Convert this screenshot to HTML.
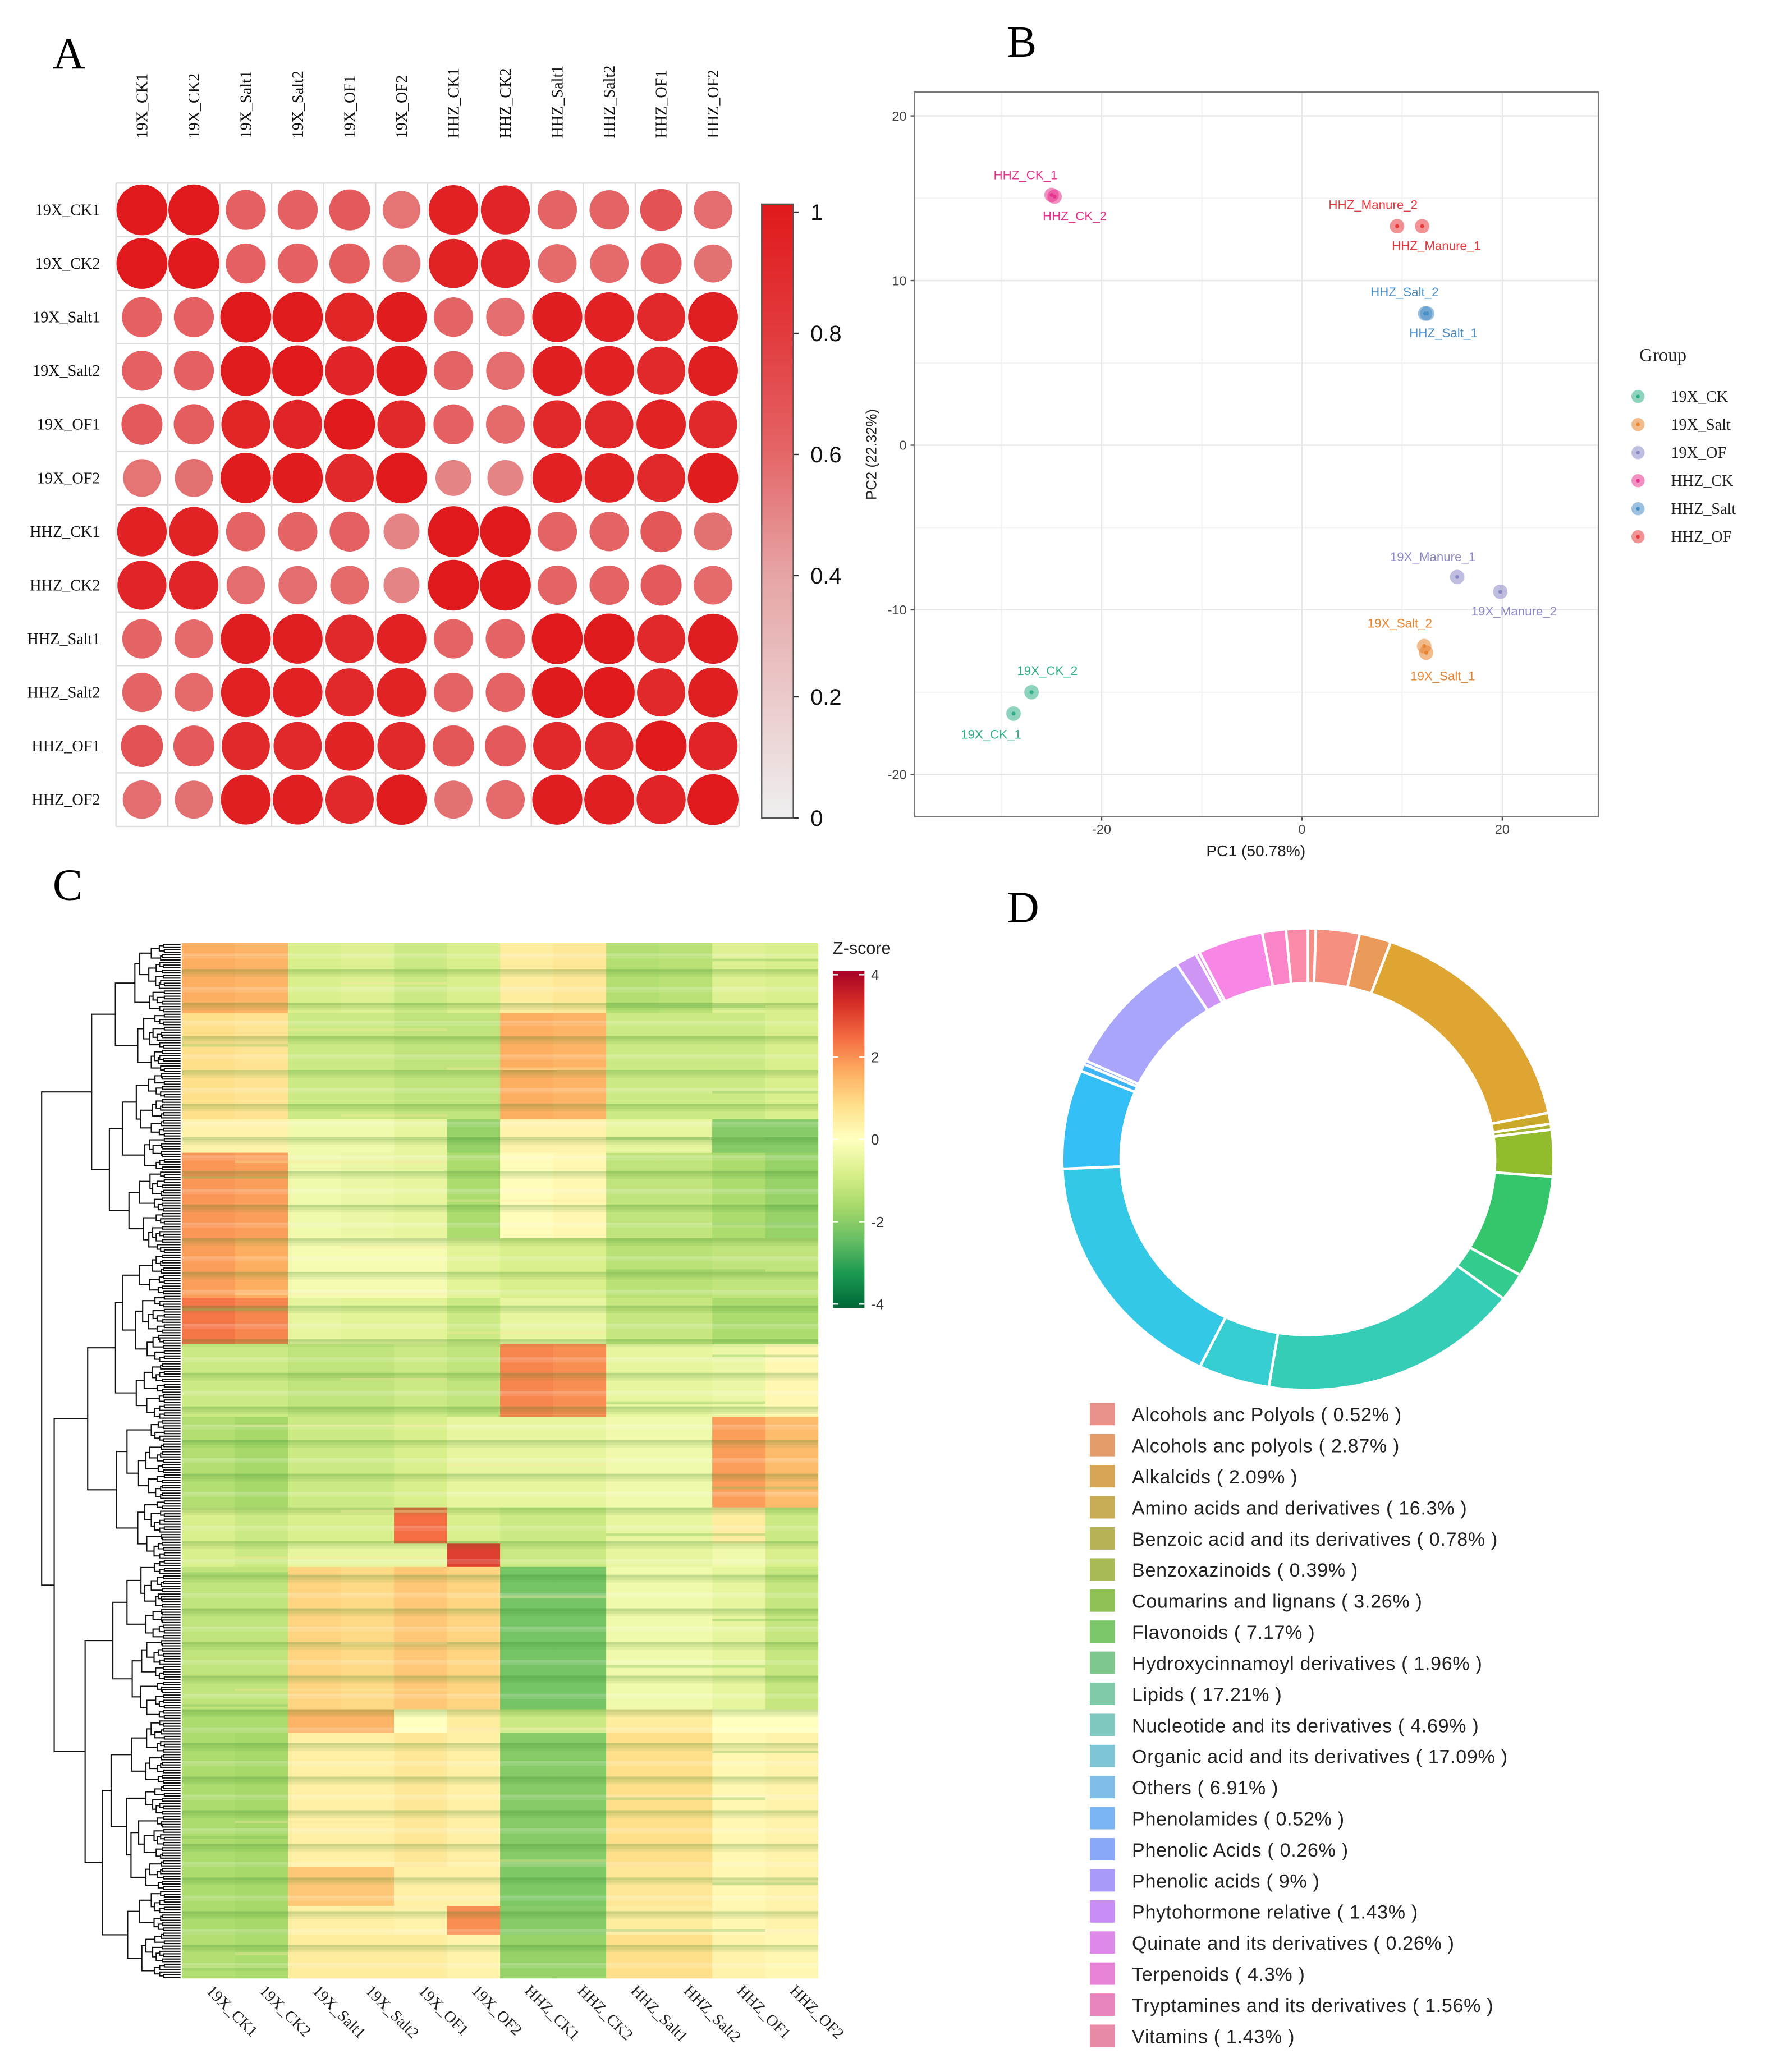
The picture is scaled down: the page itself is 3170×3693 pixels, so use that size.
<!DOCTYPE html>
<html><head><meta charset="utf-8">
<style>
html,body{margin:0;padding:0;background:#fff;}
svg{display:block;}
.serif{font-family:"Liberation Serif",serif;}
.sans{font-family:"Liberation Sans",sans-serif;}
</style></head>
<body>
<svg id="fig" xmlns="http://www.w3.org/2000/svg" width="3170" height="3693" viewBox="0 0 1350 1573" preserveAspectRatio="none">
<rect x="0" y="0" width="1350" height="1573" fill="#fff"/>
<defs><clipPath id="hmclip"><rect x="138" y="716" width="483" height="786"/></clipPath></defs>
<text class="serif" x="40" y="52" font-size="34">A</text>
<text class="serif" x="764" y="43" font-size="34">B</text>
<text class="serif" x="40" y="683" font-size="34">C</text>
<text class="serif" x="764" y="700" font-size="34">D</text>
<g id="pa"></g>
<g id="pb"></g>
<g id="pc"></g>
<g id="pd"></g>
</svg>
<script>
// ---------- DATA ----------
const corrLabels = ["19X_CK1","19X_CK2","19X_Salt1","19X_Salt2","19X_OF1","19X_OF2","HHZ_CK1","HHZ_CK2","HHZ_Salt1","HHZ_Salt2","HHZ_OF1","HHZ_OF2"];
const corrValues = [
[1,1,.62,.62,.65,.55,.95,.93,.6,.6,.68,.57],
[1,1,.62,.62,.63,.56,.94,.93,.58,.58,.65,.56],
[.62,.62,1,.98,.92,.98,.6,.57,.97,.95,.9,.96],
[.62,.62,.98,1,.93,.98,.6,.57,.96,.95,.9,.96],
[.65,.63,.92,.93,1,.9,.62,.58,.9,.9,.94,.9],
[.55,.56,.98,.98,.9,1,.5,.5,.95,.94,.9,.98],
[.95,.94,.6,.6,.62,.5,1,1,.6,.6,.66,.56],
[.93,.93,.57,.57,.58,.5,1,1,.6,.6,.65,.58],
[.6,.58,.97,.96,.9,.95,.6,.6,1,.99,.9,.97],
[.6,.58,.95,.95,.9,.94,.6,.6,.99,1,.9,.96],
[.68,.65,.9,.9,.94,.9,.66,.65,.9,.9,1,.93],
[.57,.56,.96,.96,.9,.98,.56,.58,.97,.96,.93,1]];
const corrTicks = [0,0.2,0.4,0.6,0.8,1];

const pcaNames = ["HHZ_CK_1","HHZ_CK_2","HHZ_Manure_2","HHZ_Manure_1","HHZ_Salt_2","HHZ_Salt_1","19X_Manure_1","19X_Manure_2","19X_Salt_2","19X_Salt_1","19X_CK_2","19X_CK_1"];
const pcaGroups = [3,3,5,5,4,4,2,2,1,1,0,0];
const pcaX = [-25,-24.7,9.5,12,12.5,12.3,15.5,19.8,12.2,12.4,-27,-28.8];
const pcaY = [15.2,15.1,13.3,13.3,8.0,8.0,-8.0,-8.9,-12.2,-12.6,-15,-16.3];
const groupNames = ["19X_CK","19X_Salt","19X_OF","HHZ_CK","HHZ_Salt","HHZ_OF"];
const pcaTicksX = [-20,0,20];
const pcaTicksY = [20,10,0,-10,-20];

const hmCols = ["19X_CK1","19X_CK2","19X_Salt1","19X_Salt2","19X_OF1","19X_OF2","HHZ_CK1","HHZ_CK2","HHZ_Salt1","HHZ_Salt2","HHZ_OF1","HHZ_OF2"];
const hmBandEnd = [27,68,81,114,137,155,183,218,232,241,296,305,357,372,383,400];
const hmValues = [
[1.6,1.5,-0.8,-0.7,-1.0,-0.8,0.5,0.6,-1.4,-1.3,-0.7,-0.8],
[0.8,0.7,-1.0,-1.0,-1.2,-1.2,1.6,1.5,-1.0,-1.0,-1.0,-0.8],
[0.3,0.3,-0.3,-0.3,-0.5,-1.8,0.3,0.3,-0.5,-0.5,-2.0,-2.0],
[1.9,1.8,-0.3,-0.4,-0.5,-1.5,0.1,0.2,-1.2,-1.2,-1.5,-1.8],
[1.8,1.6,-0.2,-0.2,-0.2,-0.6,-0.8,-0.8,-1.3,-1.3,-1.2,-1.2],
[2.3,2.1,-0.5,-0.6,-0.6,-1.0,-0.5,-0.5,-1.1,-1.1,-1.5,-1.5],
[-1.0,-1.0,-1.2,-1.2,-1.0,-1.2,2.1,2.0,-0.5,-0.5,-0.4,0.2],
[-1.4,-1.6,-1.0,-1.0,-0.8,-0.5,-0.5,-0.5,-0.3,-0.3,1.8,1.4],
[-0.8,-1.0,-0.8,-0.8,2.4,-0.8,-1.0,-1.0,-0.5,-0.5,0.5,-1.0],
[-0.8,-1.0,-0.5,-0.5,-0.5,3.0,-1.0,-1.0,-0.5,-0.5,-0.3,-0.8],
[-1.2,-1.2,1.0,0.9,1.2,1.0,-2.2,-2.2,-0.3,-0.3,-0.5,-1.1],
[-1.5,-1.5,1.5,1.5,0.0,0.5,-1.0,-1.0,0.5,0.5,0.0,0.0],
[-1.5,-1.6,0.4,0.4,0.6,0.4,-2.0,-2.0,0.8,0.8,0.2,0.3],
[-1.5,-1.6,1.2,1.2,0.4,0.4,-2.1,-2.1,0.6,0.6,0.2,0.3],
[-1.5,-1.6,0.4,0.4,0.3,2.0,-2.0,-2.0,0.5,0.5,0.2,0.3],
[-1.4,-1.5,0.5,0.5,0.5,0.3,-1.8,-1.8,0.8,0.8,0.3,0.2]];
const zTicks = [4,2,0,-2,-4];

const donutLabels = ["Alcohols anc Polyols","Alcohols anc polyols","Alkalcids","Amino acids and derivatives","Benzoic acid and its derivatives","Benzoxazinoids","Coumarins and lignans","Flavonoids","Hydroxycinnamoyl derivatives","Lipids","Nucleotide and its derivatives","Organic acid and  its derivatives","Others","Phenolamides","Phenolic Acids","Phenolic acids","Phytohormone relative","Quinate and its derivatives","Terpenoids","Tryptamines and its derivatives","Vitamins"];
const donutValues = [0.52,2.87,2.09,16.3,0.78,0.39,3.26,7.17,1.96,17.21,4.69,17.09,6.91,0.52,0.26,9,1.43,0.26,4.3,1.56,1.43];

// ---------- STYLE ----------
const NS="http://www.w3.org/2000/svg";
function mk(tag,attrs,parent,txt){const e=document.createElementNS(NS,tag);for(const k in attrs)e.setAttribute(k,attrs[k]);if(txt!==undefined)e.textContent=txt;parent.appendChild(e);return e;}
function hex(c){return [parseInt(c.substr(1,2),16),parseInt(c.substr(3,2),16),parseInt(c.substr(5,2),16)];}
function lerpStops(stops,t){
  if(t<=stops[0][0])return stops[0][1];
  for(let i=1;i<stops.length;i++){if(t<=stops[i][0]){const a=stops[i-1],b=stops[i];const f=(t-a[0])/(b[0]-a[0]);const A=hex(a[1]),B=hex(b[1]);return "rgb("+A.map((v,j)=>Math.round(v+(B[j]-v)*f)).join(",")+")";}}
  return stops[stops.length-1][1];}
const corrStops=[[0,"#efefef"],[0.4,"#e6a3a4"],[0.6,"#e46466"],[0.8,"#e2393b"],[1,"#e0191c"]];
const zStops=[[-4,"#006837"],[-3.2,"#1a9850"],[-2.4,"#66bd63"],[-1.6,"#a6d96a"],[-0.8,"#d9ef8b"],[0,"#ffffbf"],[0.8,"#fee08b"],[1.6,"#fdae61"],[2.4,"#f46d43"],[3.2,"#d73027"],[4,"#a50026"]];
const groupColors=["#2fae86","#e8842e","#8b88c6","#e7348f","#4a8ec6","#e8383d"];
const donutColors=["#f78f86","#f59080","#ea9a58","#dea533","#c9a82a","#a8b52a","#93bb2e","#35c66c","#33cc8e","#35cdb5","#35cdd0","#33c8e5","#33bff5","#40b5f5","#7aa8fb","#a9a5fb","#cf95f5","#e08af0","#f886e4","#f984c8","#f98aa8"];
const legendColors=["#e8918a","#e39c6a","#d6a555","#c7ab55","#b6b255","#a8ba55","#8fc255","#7cc66a","#7ec88e","#7ec9a8","#7ec8c0","#7ec6d6","#7ebde8","#7ab5f3","#8aa8f8","#a89af8","#c98ef6","#de88ea","#e783d6","#e885bf","#e78aa6"];

// ---------- PANEL A ----------
(function(){
  const g=document.getElementById("pa");
  const x0=88,y0=139,cw=39.4,ch=40.7,n=corrLabels.length;
  const colX=i=>x0+cw*(i+0.5), rowY=i=>y0+ch*(i+0.5);
  for(let i=0;i<=n;i++){
    mk("line",{x1:x0+cw*i,y1:y0,x2:x0+cw*i,y2:y0+ch*n,stroke:"#dcdcdc","stroke-width":1},g);
    mk("line",{x1:x0,y1:y0+ch*i,x2:x0+cw*n,y2:y0+ch*i,stroke:"#dcdcdc","stroke-width":1},g);
  }
  for(let r=0;r<n;r++)for(let c=0;c<n;c++){
    const v=corrValues[r][c];
    const e=mk("circle",{cx:colX(c),cy:rowY(r),r:19.3*Math.sqrt(v),fill:lerpStops(corrStops,v)},g);
    
    
  }
  corrLabels.forEach((l,i)=>{
    const t=mk("text",{class:"serif","font-size":12,"text-anchor":"start",transform:"translate("+(colX(i)+4)+",105) rotate(-90)",fill:"#111"},g,l);
    
    
    const t2=mk("text",{class:"serif","font-size":12,"text-anchor":"end",x:76,y:rowY(i)+4,fill:"#111"},g,l);
    
    
  });
  const bx=578,by0=155,by1=621,bw=24;
  const defs=mk("defs",{},g);
  const lg=mk("linearGradient",{id:"cgrad",x1:0,y1:1,x2:0,y2:0},defs);
  corrStops.forEach(s=>mk("stop",{offset:s[0],"stop-color":s[1]},lg));
  const cb=mk("rect",{x:bx,y:by0,width:bw,height:by1-by0,fill:"url(#cgrad)",stroke:"#555","stroke-width":1},g);
  
  
  corrTicks.forEach(v=>{
    const y=by1-(by1-by0-6)*v;
    mk("line",{x1:bx+bw,y1:y,x2:bx+bw+4,y2:y,stroke:"#333","stroke-width":1},g);
    const t=mk("text",{class:"sans","font-size":17,x:615,y:y+6,fill:"#111"},g,v===0||v===1?String(v):v.toFixed(1));
    
    
  });
})();

// ---------- PANEL B ----------
(function(){
  const g=document.getElementById("pb");
  const L=694,R=1213,T=70,B=620;
  const sx=v=>988+7.6*v, sy=v=>338-12.5*v;
  mk("rect",{x:L,y:T,width:R-L,height:B-T,fill:"#fff"},g);
  [-30,-10,10].forEach(v=>mk("line",{x1:sx(v),y1:T,x2:sx(v),y2:B,stroke:"#f2f2f2","stroke-width":0.8},g));
  [15,5,-5,-15].forEach(v=>mk("line",{x1:L,y1:sy(v),x2:R,y2:sy(v),stroke:"#f2f2f2","stroke-width":0.8},g));
  pcaTicksX.forEach(v=>{mk("line",{x1:sx(v),y1:T,x2:sx(v),y2:B,stroke:"#e6e6e6","stroke-width":1},g);
    mk("line",{x1:sx(v),y1:B,x2:sx(v),y2:B+3,stroke:"#555"},g);
    const t=mk("text",{class:"sans","font-size":10,x:sx(v),y:B+13,"text-anchor":"middle",fill:"#444"},g,String(v));
    });
  pcaTicksY.forEach(v=>{mk("line",{x1:L,y1:sy(v),x2:R,y2:sy(v),stroke:"#e6e6e6","stroke-width":1},g);
    mk("line",{x1:L-3,y1:sy(v),x2:L,y2:sy(v),stroke:"#555"},g);
    const t=mk("text",{class:"sans","font-size":10,x:L-6,y:sy(v)+3.5,"text-anchor":"end",fill:"#444"},g,String(v));
    });
  mk("rect",{x:L,y:T,width:R-L,height:B-T,fill:"none",stroke:"#777","stroke-width":1.2},g);
  const xt=mk("text",{class:"sans","font-size":12,x:953,y:650,"text-anchor":"middle",fill:"#222"},g,"PC1 (50.78%)");
  
  const yt=mk("text",{class:"sans","font-size":11,"text-anchor":"middle",fill:"#222",transform:"translate(665,345) rotate(-90)"},g,"PC2 (22.32%)");
  
  const offs={"HHZ_CK_1":[-44,-12],"HHZ_CK_2":[-9,18],"HHZ_Manure_2":[-52,-13],"HHZ_Manure_1":[-23,18],"HHZ_Salt_2":[-43,-13],"HHZ_Salt_1":[-12,18],"19X_Manure_1":[-51,-12],"19X_Manure_2":[-22,18],"19X_Salt_2":[-43,-14],"19X_Salt_1":[-12,21],"19X_CK_2":[-11,-13],"19X_CK_1":[-40,19]};
  pcaNames.forEach((n,i)=>{
    const c=groupColors[pcaGroups[i]],x=sx(pcaX[i]),y=sy(pcaY[i]);
    const p=mk("circle",{cx:x,cy:y,r:5.5,fill:c,"fill-opacity":0.55},g);
    
    mk("circle",{cx:x,cy:y,r:1.5,fill:c},g);
    const t=mk("text",{class:"sans","font-size":9.5,x:x+offs[n][0],y:y+offs[n][1],fill:c},g,n);
    
  });
  const lt=mk("text",{class:"serif","font-size":14,x:1244,y:274,fill:"#222"},g,"Group");
  
  groupNames.forEach((n,i)=>{
    const y=301+21.3*i;
    const d=mk("circle",{cx:1243,cy:y,r:5,fill:groupColors[i],"fill-opacity":0.55},g);
    
    mk("circle",{cx:1243,cy:y,r:1.4,fill:groupColors[i]},g);
    const t=mk("text",{class:"serif","font-size":12,x:1268,y:y+4,fill:"#222"},g,n);
    
  });
})();

// ---------- PANEL C ----------
(function(){
  const g=document.getElementById("pc");
  const L=138,R=621,T=716,B=1502,nRows=400,nc=hmCols.length;
  const cw=(R-L)/nc, rh=(B-T)/nRows;
  const colX=i=>L+cw*i, rowY=r=>T+rh*r;
  const cells=mk("g",{"clip-path":"url(#hmclip)"},g);
  let start=0;
  hmBandEnd.forEach((end,b)=>{
    for(let c=0;c<nc;c++){
      const e=mk("rect",{x:colX(c),y:rowY(start),width:cw+0.4,height:rowY(end)-rowY(start)+0.2,fill:lerpStops(zStops,hmValues[b][c])},cells);
      
      
    }
    start=end;
  });
  for(let r=0;r<nRows;r++){
    const k=(r*37+11)%13;
    if(k<5){mk("rect",{x:L,y:rowY(r),width:R-L,height:rh,fill:k%2?"#ffffff":"#2a7a20",opacity:0.08+0.04*k},cells);}
  }
  for(let r=0;r<nRows;r+=3){
    const k=(r*53+7)%17;
    if(k<6){const c0=(k*5)%nc;mk("rect",{x:colX(c0),y:rowY(r),width:cw*(2+k%3),height:rh,fill:k%2?"#f8e9a0":"#7fbf5a",opacity:0.35},cells);}
  }
  const dg=mk("g",{stroke:"#111","stroke-width":0.9,fill:"none"},g);
  
  
  function build(lo,hi,d){
    const size=hi-lo;
    if(size<=1){return {y:rowY(lo+0.5),x:L-1};}
    const frac=0.3+0.4*(((lo*7+d*13)%10)/10);
    let mid=lo+Math.max(1,Math.min(size-1,Math.round(size*frac)));
    const a=build(lo,mid,d+1),b=build(mid,hi,d+1);
    const x=L-2-116*Math.pow(size/nRows,0.42)*(0.9+0.1*((lo+d)%3)/2);
    const xx=Math.min(x,Math.min(a.x,b.x)-0.8);
    mk("path",{d:"M"+a.x+","+a.y+"H"+xx+"V"+b.y+"H"+b.x},dg);
    return {x:xx,y:(a.y+b.y)/2};
  }
  build(0,nRows,0);
  hmCols.forEach((n,i)=>{
    const t=mk("text",{class:"serif","font-size":12,fill:"#222",transform:"translate("+(colX(i)+18)+",1512) rotate(45)"},g,n);
    
  });
  const zt=mk("text",{class:"sans","font-size":13,x:632,y:724,fill:"#222"},g,"Z-score");
  
  const bx=632,by0=737,by1=993,bw=24;
  const defs=mk("defs",{},g);
  const lg=mk("linearGradient",{id:"zgrad",x1:0,y1:1,x2:0,y2:0},defs);
  zStops.forEach(s=>mk("stop",{offset:(s[0]+4)/8,"stop-color":s[1]},lg));
  const zb=mk("rect",{x:bx,y:by0,width:bw,height:by1-by0,fill:"url(#zgrad)"},g);
  
  zTicks.forEach(v=>{
    const y=by0+3+(by1-by0-6)*(4-v)/8;
    mk("line",{x1:bx,y1:y,x2:bx+4,y2:y,stroke:"#fff","stroke-width":1},g);
    mk("line",{x1:bx+bw-4,y1:y,x2:bx+bw,y2:y,stroke:"#fff","stroke-width":1},g);
    const t=mk("text",{class:"sans","font-size":11,x:661,y:y+4,fill:"#333"},g,String(v));
    
  });
})();

// ---------- PANEL D ----------
(function(){
  const g=document.getElementById("pd");
  const cx=992.5,cy=880,ro=186.5,ri=142,ky=0.94;
  const total=donutValues.reduce((a,b)=>a+b,0);
  const pt=(r,a)=>[cx+r*Math.sin(a),cy-ky*r*Math.cos(a)];
  let acc=0;
  donutValues.forEach((v,i)=>{
    const a0=acc/total*2*Math.PI,a1=(acc+v)/total*2*Math.PI;acc+=v;
    const big=a1-a0>Math.PI?1:0;
    const p0=pt(ro,a0),p1=pt(ro,a1),p2=pt(ri,a1),p3=pt(ri,a0);
    const d="M"+p0+"A"+ro+","+(ro*ky)+" 0 "+big+" 1 "+p1+"L"+p2+"A"+ri+","+(ri*ky)+" 0 "+big+" 0 "+p3+"Z";
    const e=mk("path",{d:d,fill:donutColors[i],stroke:"#fff","stroke-width":2},g);
    
    
  });
  donutLabels.forEach((n,i)=>{
    const y=1074+23.6*i;
    const s=mk("rect",{x:827,y:y-9,width:19,height:17,fill:legendColors[i]},g);
    
    const t=mk("text",{class:"sans","font-size":14.5,x:859,y:y+5,fill:"#222","letter-spacing":"0.3"},g,n+" ( "+donutValues[i]+"% )");
    
  });
})();
</script>
</body></html>
